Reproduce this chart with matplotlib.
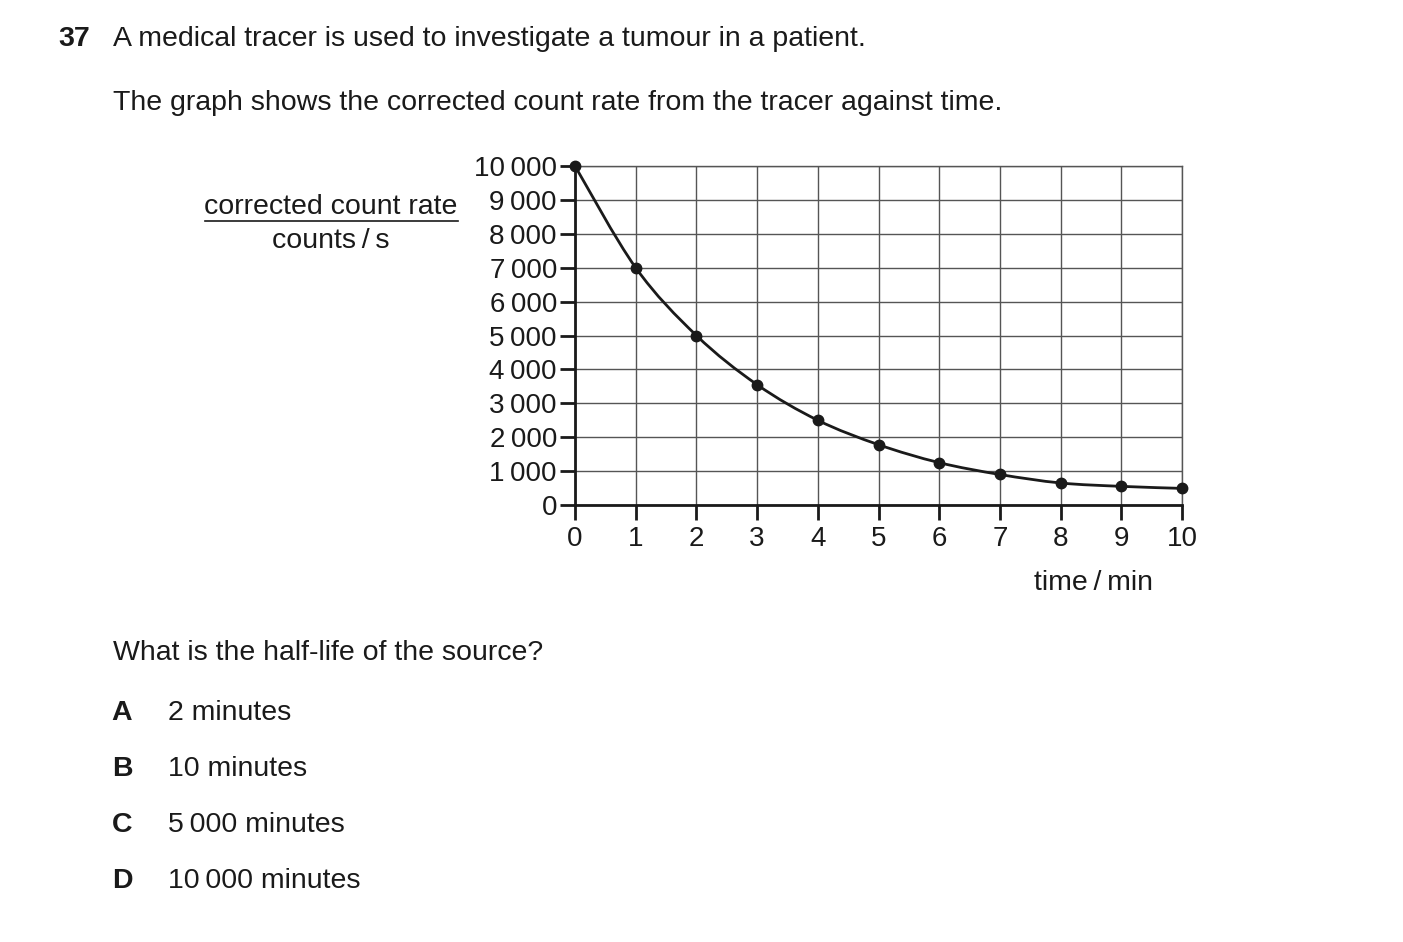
import numpy as np
import matplotlib
matplotlib.use("Agg")
import matplotlib.pyplot as plt
from matplotlib.path import Path
from matplotlib.patches import PathPatch

plt.rcParams['font.family'] = ['Liberation Sans', 'DejaVu Sans']

time_min = [0, 1, 2, 3, 4, 5, 6, 7, 8, 9, 10]
count_rate = [10000, 7000, 5000, 3550, 2500, 1780, 1250, 900, 650, 550, 490]
y_ticks = [0, 1000, 2000, 3000, 4000, 5000, 6000, 7000, 8000, 9000, 10000]
y_tick_labels = ["0", "1\u2009000", "2\u2009000", "3\u2009000", "4\u2009000", "5\u2009000",
                 "6\u2009000", "7\u2009000", "8\u2009000", "9\u2009000", "10\u2009000"]
x_ticks = [0, 1, 2, 3, 4, 5, 6, 7, 8, 9, 10]
options = [("A", "2 minutes"), ("B", "10 minutes"), ("C", "5\u2009000 minutes"), ("D", "10\u2009000 minutes")]

W, H = 1403, 942
fig = plt.figure(figsize=(W / 100, H / 100), dpi=100)

def fx(px):
    return px / W

def fy(py):
    return 1 - (py + 2.5) / H

ax = fig.add_axes([575 / W, 1 - 505 / H, (1182 - 575) / W, (505 - 166) / H])
ax.set_xlim(0, 10)
ax.set_ylim(0, 10000)
ax.set_xticks(x_ticks)
ax.set_yticks(y_ticks)
ax.set_xticklabels([str(v) for v in x_ticks])
ax.set_yticklabels(y_tick_labels)
ax.grid(True, color='#555555', linewidth=1.0)
ax.set_axisbelow(True)
for s in ['top', 'right']:
    ax.spines[s].set_color('#555555')
    ax.spines[s].set_linewidth(1.0)
for s in ['left', 'bottom']:
    ax.spines[s].set_color('#1a1a1a')
    ax.spines[s].set_linewidth(2.0)
ax.tick_params(axis='both', direction='out', length=11, width=2.0, color='#1a1a1a',
               labelsize=20, labelcolor='#1a1a1a', pad=2)
ax.tick_params(axis='x', pad=4)

# smooth curve (Catmull-Rom through the data points)
x = np.array(time_min, dtype=float)
y = np.array(count_rate, dtype=float)
verts = [(x[0], y[0])]
codes = [Path.MOVETO]
n = len(x)
for i in range(n - 1):
    p0 = np.array([x[max(i - 1, 0)], y[max(i - 1, 0)]])
    p1 = np.array([x[i], y[i]])
    p2 = np.array([x[i + 1], y[i + 1]])
    p3 = np.array([x[min(i + 2, n - 1)], y[min(i + 2, n - 1)]])
    c1 = p1 + (p2 - p0) / 6.0
    c2 = p2 - (p3 - p1) / 6.0
    verts += [tuple(c1), tuple(c2), tuple(p2)]
    codes += [Path.CURVE4] * 3
patch = PathPatch(Path(verts, codes), facecolor='none', edgecolor='#1a1a1a', lw=2.0,
                  transform=ax.transData, clip_on=False, zorder=3)
ax.add_patch(patch)
ax.plot(time_min, count_rate, 'o', color='#1a1a1a', markersize=7.5, zorder=4, clip_on=False)

tc = '#1a1a1a'
fs = 20.5
fig.text(fx(58), fy(36), "37", fontsize=fs, fontweight='bold', color=tc, va='center', ha='left')
fig.text(fx(113), fy(36), "A medical tracer is used to investigate a tumour in a patient.",
         fontsize=fs, color=tc, va='center', ha='left')
fig.text(fx(113), fy(101), "The graph shows the corrected count rate from the tracer against time.",
         fontsize=fs, color=tc, va='center', ha='left')

fig.text(fx(331), fy(205), "corrected count rate", fontsize=fs, color=tc, va='center', ha='center')
fig.add_artist(plt.Line2D([205 / W, 458 / W], [1 - 221 / H, 1 - 221 / H], color=tc, lw=1.2))
fig.text(fx(331), fy(239), "counts\u2009/\u2009s", fontsize=fs, color=tc, va='center', ha='center')
fig.text(fx(1093), fy(580), "time\u2009/\u2009min", fontsize=fs, color=tc, va='center', ha='center')

fig.text(fx(113), fy(650), "What is the half-life of the source?", fontsize=fs, color=tc,
         va='center', ha='left')
for i, (letter, txt) in enumerate(options):
    yy = 711 + i * 56
    fig.text(fx(122), fy(yy), letter, fontsize=fs, fontweight='bold', color=tc, va='center', ha='center')
    fig.text(fx(168), fy(yy), txt, fontsize=fs, color=tc, va='center', ha='left')

fig.savefig("out.png", dpi=100, facecolor='white')
